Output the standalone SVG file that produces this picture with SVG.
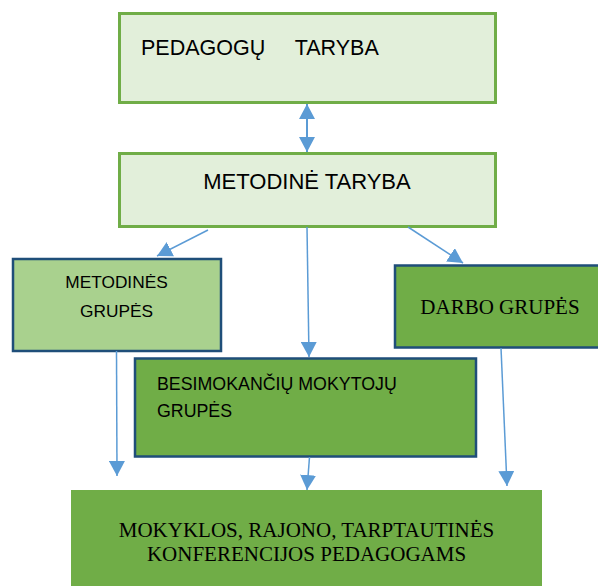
<svg xmlns="http://www.w3.org/2000/svg" width="598" height="586" viewBox="0 0 598 586">
<defs>
<marker id="ah" markerUnits="userSpaceOnUse" markerWidth="16" markerHeight="16" viewBox="0 0 16 16" refX="15" refY="8" orient="auto-start-reverse">
<path d="M0,0 L15,8 L0,16 Z" fill="#5B9BD5"/>
</marker>
</defs>
<style>
.cal{font-family:"Liberation Sans",Arial,sans-serif;fill:#000}
.tim{font-family:"Liberation Serif","Times New Roman",serif;fill:#000}
.lt{fill:#E2EFDA;stroke:#70AD47;stroke-width:3}
.mg{fill:#A9D18E;stroke:#1F4E79;stroke-width:2.5}
.dg{fill:#70AD47;stroke:#1F4E79;stroke-width:2.5}
.conn line{stroke:#5B9BD5;stroke-width:1.5;marker-end:url(#ah)}
</style>
<rect width="598" height="586" fill="#fff"/>
<g id="pedagogu-taryba">
<rect class="lt" x="119.5" y="13.5" width="376" height="89"/>
<text class="cal" x="141" y="55" font-size="21.5" xml:space="preserve">PEDAGOGŲ     TARYBA</text>
</g>
<g id="metodine-taryba">
<rect class="lt" x="119.5" y="153.5" width="376" height="73"/>
<text class="cal" x="307" y="189" font-size="22" text-anchor="middle">METODINĖ TARYBA</text>
</g>
<g id="metodines-grupes">
<rect class="mg" x="13" y="259" width="208" height="92"/>
<text class="cal" x="116.5" y="288" font-size="17.3" text-anchor="middle">METODINĖS</text>
<text class="cal" x="116.5" y="317" font-size="17.3" text-anchor="middle">GRUPĖS</text>
</g>
<g id="darbo-grupes">
<rect class="dg" x="395" y="265.5" width="210" height="82"/>
<text class="tim" x="500" y="314" font-size="21" text-anchor="middle">DARBO GRUPĖS</text>
</g>
<g id="besimokanciu-grupes">
<rect class="dg" x="135" y="358.5" width="341" height="98"/>
<text class="cal" x="157" y="390" font-size="17.8">BESIMOKANČIŲ MOKYTOJŲ</text>
<text class="cal" x="157" y="417" font-size="17.8">GRUPĖS</text>
</g>
<g id="konferencijos">
<rect x="71" y="490" width="471" height="100" fill="#70AD47"/>
<text class="tim" x="306.5" y="537" font-size="21" text-anchor="middle">MOKYKLOS, RAJONO, TARPTAUTINĖS</text>
<text class="tim" x="306.5" y="561" font-size="21" text-anchor="middle">KONFERENCIJOS PEDAGOGAMS</text>
</g>
<g id="connectors" class="conn">
<line x1="307" y1="104" x2="307" y2="152" style="stroke-width:2;marker-start:url(#ah)"/>
<line x1="208" y1="230" x2="157" y2="256"/>
<line x1="307" y1="227" x2="309" y2="357"/>
<line x1="408" y1="227" x2="463" y2="263"/>
<line x1="116.5" y1="351" x2="117" y2="476"/>
<line x1="309.5" y1="457" x2="307" y2="490"/>
<line x1="501" y1="348" x2="507" y2="486"/>
</g>
</svg>
